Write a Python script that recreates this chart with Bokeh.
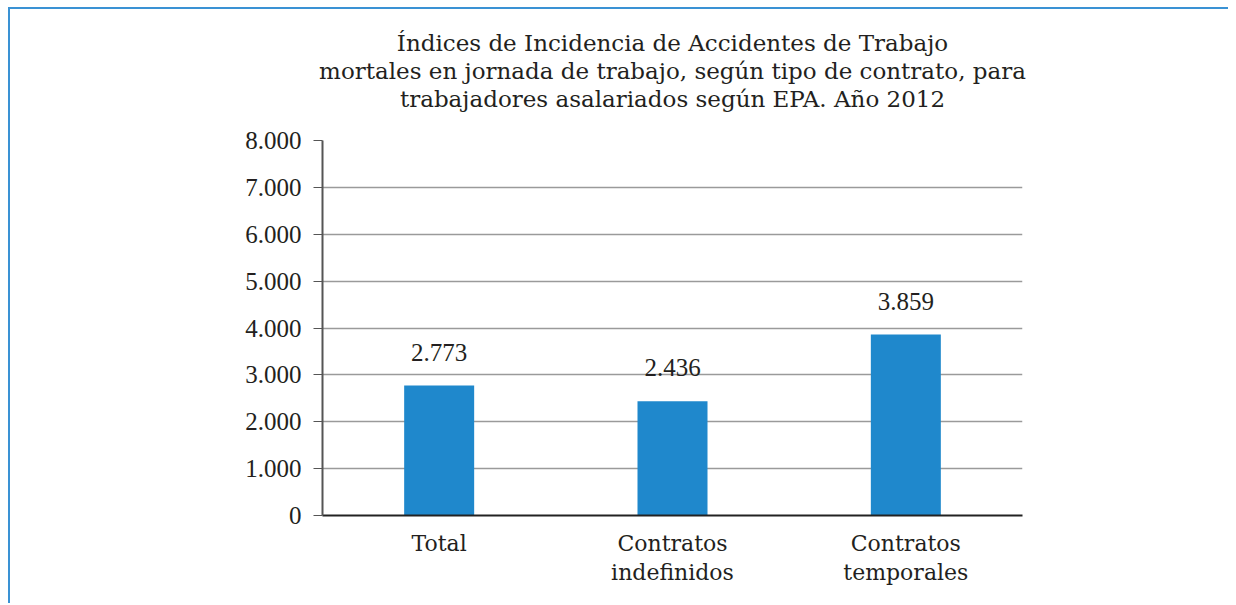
from bokeh.plotting import figure
from bokeh.models import (ColumnDataSource, LabelSet, FixedTicker, Title, CategoricalAxis,
                          CustomJSTickFormatter)
from bokeh.embed import file_html
from bokeh.resources import INLINE

categories = ["Total", "Contratos indefinidos", "Contratos temporales"]
category_labels = ["Total", "Contratos\nindefinidos", "Contratos\ntemporales"]
values = [2773, 2436, 3859]
value_labels = ["2.773", "2.436", "3.859"]
y_ticks = [0, 1000, 2000, 3000, 4000, 5000, 6000, 7000, 8000]
y_tick_labels = ["0", "1.000", "2.000", "3.000", "4.000", "5.000", "6.000", "7.000", "8.000"]
title_lines = ["Índices de Incidencia de Accidentes de Trabajo",
               "mortales en jornada de trabajo, según tipo de contrato, para",
               "trabajadores asalariados según EPA. Año 2012"]

NUM_FONT = "Liberation Serif"
WORD_FONT = "DejaVu Serif"
TXT = "#231f20"

label_line1 = {c: l.split("\n")[0] for c, l in zip(categories, category_labels)}
label_line2 = {c: (l.split("\n")[1] if "\n" in l else "") for c, l in zip(categories, category_labels)}

src = ColumnDataSource(dict(cat=categories, val=values, lab=value_labels))

p = figure(x_range=categories, y_range=(0, 8000), width=1220, height=596,
           output_backend="svg", toolbar_location=None, title=None,
           min_border_left=312, min_border_right=208, min_border_top=131, min_border_bottom=90)
p.margin = (7, 0, 0, 8)
p.styles = {"border-left": "2px solid #3a92d4", "border-top": "2px solid #3a92d4"}
p.outline_line_color = None
p.background_fill_color = "white"
p.border_fill_color = "white"

p.vbar(x="cat", top="val", width=0.3, source=src, fill_color="#1f88cc", line_color=None)

labels = LabelSet(x="cat", y="val", text="lab", source=src, text_align="center",
                  text_baseline="bottom", y_offset=25, text_font=NUM_FONT,
                  text_font_size="25px", text_color=TXT)
p.add_layout(labels)

# spacer between frame and title block
p.add_layout(Title(text=" ", text_font_size="1px", standoff=26), "above")
for line in reversed(title_lines):
    t = Title(text=line, align="center", text_font=WORD_FONT, text_font_size="23px",
              text_font_style="normal", text_color=TXT, standoff=0)
    p.add_layout(t, "above")

p.yaxis.ticker = FixedTicker(ticks=y_ticks)
p.yaxis.major_label_overrides = {t: l for t, l in zip(y_ticks, y_tick_labels)}
p.yaxis.major_label_text_font = NUM_FONT
p.yaxis.major_label_text_font_size = "25px"
p.yaxis.major_label_text_color = TXT
p.yaxis.major_tick_out = 9
p.yaxis.major_tick_in = 0
p.yaxis.minor_tick_line_color = None
p.yaxis.axis_line_color = "#555555"
p.yaxis.axis_line_width = 2
p.yaxis.major_tick_line_color = "#555555"
p.yaxis.major_label_standoff = 12

xa = p.xaxis[0]
xa.formatter = CustomJSTickFormatter(args=dict(m=label_line1), code="return m[tick] || ''")
xa.major_label_text_font = WORD_FONT
xa.major_label_text_font_size = "22px"
xa.major_label_text_color = TXT
xa.major_tick_line_color = None
xa.major_tick_out = 0
xa.minor_tick_line_color = None
xa.axis_line_color = "#222222"
xa.axis_line_width = 2
xa.major_label_standoff = 15

xa2 = CategoricalAxis(formatter=CustomJSTickFormatter(args=dict(m=label_line2),
                                                      code="return m[tick] || ''"))
xa2.major_label_text_font = WORD_FONT
xa2.major_label_text_font_size = "22px"
xa2.major_label_text_color = TXT
xa2.major_tick_line_color = None
xa2.major_tick_out = 0
xa2.minor_tick_line_color = None
xa2.axis_line_color = None
xa2.major_label_standoff = 1
p.add_layout(xa2, "below")

p.xgrid.grid_line_color = None
p.ygrid.grid_line_color = "#9a9a9a"
p.ygrid.grid_line_width = 1.5

open("out.html", "w").write(file_html(p, INLINE))
